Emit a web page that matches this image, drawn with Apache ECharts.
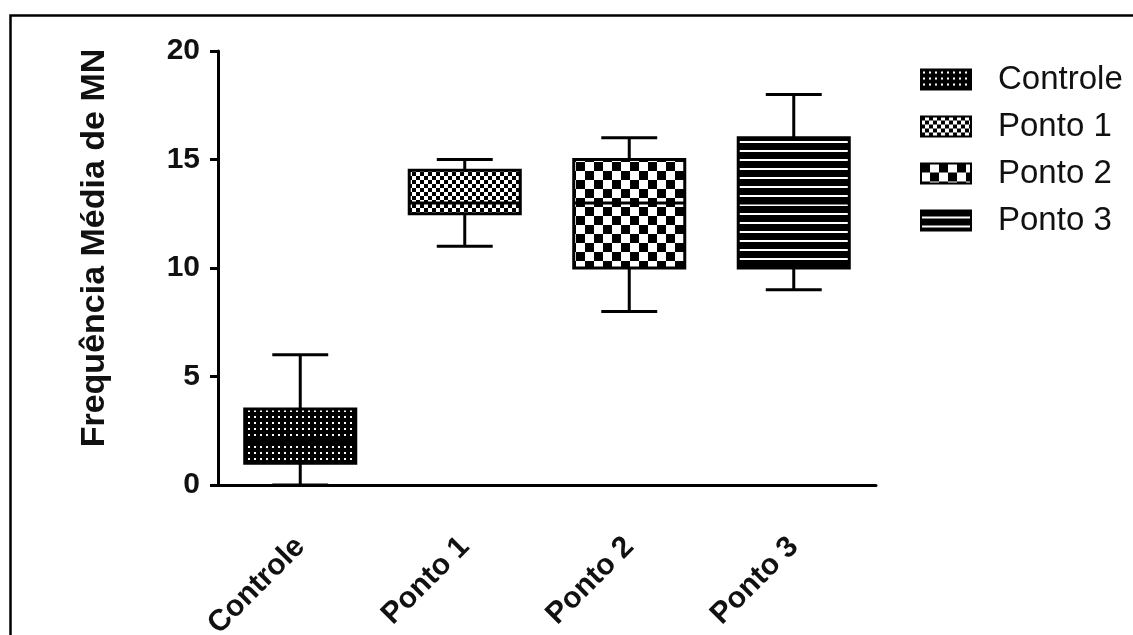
<!DOCTYPE html>
<html>
<head>
<meta charset="utf-8">
<script src="https://cdn.jsdelivr.net/npm/echarts@6/dist/echarts.min.js"></script>
<style>
html,body{margin:0;padding:0;background:#fff;}
#chart{width:1133px;height:635px;}
</style>
</head>
<body>
<div id="chart"></div>
<script>
// Data: [min, Q1, median, Q3, max]
const categories = ['Controle', 'Ponto 1', 'Ponto 2', 'Ponto 3'];
const controleBox = [0, 1, 2, 3.5, 6];
const ponto1Box = [11, 12.5, 13, 14.5, 15];
const ponto2Box = [8, 10, 13, 15, 16];
const ponto3Box = [9, 10, 13, 16, 18];
const yTicks = [0, 5, 10, 15, 20];
const yTitle = 'Frequência Média de MN';

const boxes = [controleBox, ponto1Box, ponto2Box, ponto3Box];
const FONT = 'Arial, "Liberation Sans", sans-serif';

function makeCanvas(w, h, draw) {
  const c = document.createElement('canvas');
  c.width = w; c.height = h;
  const ctx = c.getContext('2d');
  draw(ctx);
  return c;
}
const patDots = makeCanvas(6, 6, ctx => {
  ctx.fillStyle = '#000'; ctx.fillRect(0, 0, 6, 6);
  ctx.fillStyle = '#fff'; ctx.fillRect(2, 2, 2, 2);
});
const patFineCheck = makeCanvas(8, 8, ctx => {
  ctx.fillStyle = '#fff'; ctx.fillRect(0, 0, 8, 8);
  ctx.fillStyle = '#000'; ctx.fillRect(0, 0, 4, 4); ctx.fillRect(4, 4, 4, 4);
});
const patCheck = makeCanvas(18, 18, ctx => {
  ctx.fillStyle = '#fff'; ctx.fillRect(0, 0, 18, 18);
  ctx.fillStyle = '#000'; ctx.fillRect(0, 0, 9, 9); ctx.fillRect(9, 9, 9, 9);
});
const patStripes = makeCanvas(9, 9, ctx => {
  ctx.fillStyle = '#000'; ctx.fillRect(0, 0, 9, 9);
  ctx.fillStyle = '#fff'; ctx.fillRect(0, 6, 9, 2);
});
const patterns = [patDots, patFineCheck, patCheck, patStripes].map(c => ({ image: c, repeat: 'repeat' }));

function renderBox(params, api) {
  const xi = api.value(0);
  const band = api.size([1, 0])[0];
  const boxW = band * 0.675, capW = band * 0.34;
  const pMin = api.coord([xi, api.value(1)]);
  const pQ1 = api.coord([xi, api.value(2)]);
  const pMed = api.coord([xi, api.value(3)]);
  const pQ3 = api.coord([xi, api.value(4)]);
  const pMax = api.coord([xi, api.value(5)]);
  const cx = pMin[0];
  const ls = { stroke: '#000', lineWidth: 3 };
  return {
    type: 'group',
    children: [
      { type: 'line', shape: { x1: cx, y1: pMax[1], x2: cx, y2: pQ3[1] }, style: ls },
      { type: 'line', shape: { x1: cx, y1: pQ1[1], x2: cx, y2: pMin[1] }, style: ls },
      { type: 'line', shape: { x1: cx - capW / 2, y1: pMax[1], x2: cx + capW / 2, y2: pMax[1] }, style: ls },
      { type: 'line', shape: { x1: cx - capW / 2, y1: pMin[1], x2: cx + capW / 2, y2: pMin[1] }, style: ls },
      { type: 'rect', shape: { x: cx - boxW / 2, y: pQ3[1], width: boxW, height: pQ1[1] - pQ3[1] },
        style: { fill: patterns[params.seriesIndex], stroke: '#000', lineWidth: 3 } },
      { type: 'line', shape: { x1: cx - boxW / 2, y1: pMed[1], x2: cx + boxW / 2, y2: pMed[1] }, style: ls }
    ]
  };
}

const chart = echarts.init(document.getElementById('chart'));
chart.setOption({
  animation: false,
  backgroundColor: '#fff',
  graphic: [{
    type: 'rect', left: 8, top: 13,
    shape: { x: 0, y: 0, width: 1200, height: 700 },
    style: { fill: 'none', stroke: '#000', lineWidth: 2.5 }
  }],
  grid: { left: 218, top: 51, right: 257, bottom: 150, containLabel: false, outerBoundsMode: 'none' },
  legend: {
    orient: 'vertical', left: 915, top: 58, icon: 'rect',
    itemWidth: 50, itemHeight: 20, itemGap: 14,
    textStyle: { fontFamily: FONT, fontSize: 33, color: '#111', padding: [0, 0, 0, 22] },
    data: categories.map((c, i) => ({ name: c, itemStyle: { color: patterns[i], borderColor: '#000', borderWidth: 2 } }))
  },
  xAxis: {
    type: 'category', data: categories,
    axisLine: { lineStyle: { color: '#000', width: 3 } },
    axisTick: { alignWithLabel: true, length: 10, lineStyle: { color: '#000', width: 3 } },
    axisLabel: { rotate: 45, margin: 57, fontFamily: FONT, fontWeight: 'bold', fontSize: 30, color: '#111' },
    splitLine: { show: false }
  },
  yAxis: {
    type: 'value', min: yTicks[0], max: yTicks[yTicks.length - 1], interval: 5,
    name: yTitle, nameLocation: 'middle', nameGap: 106,
    nameTextStyle: { fontFamily: FONT, fontWeight: 'bold', fontSize: 34, color: '#111', padding: [0, 0, 0, 40] },
    axisLine: { show: true, lineStyle: { color: '#000', width: 3 } },
    axisTick: { show: true, length: 8, lineStyle: { color: '#000', width: 3 } },
    axisLabel: { margin: 18, fontFamily: FONT, fontWeight: 'bold', fontSize: 30, color: '#111' },
    splitLine: { show: false }
  },
  series: categories.map((c, i) => ({
    name: c, type: 'custom', renderItem: renderBox,
    itemStyle: { color: patterns[i], borderColor: '#000' },
    encode: { x: 0, y: [1, 2, 3, 4, 5] },
    data: [[i].concat(boxes[i])],
    z: 3
  }))
});
</script>
</body>
</html>
